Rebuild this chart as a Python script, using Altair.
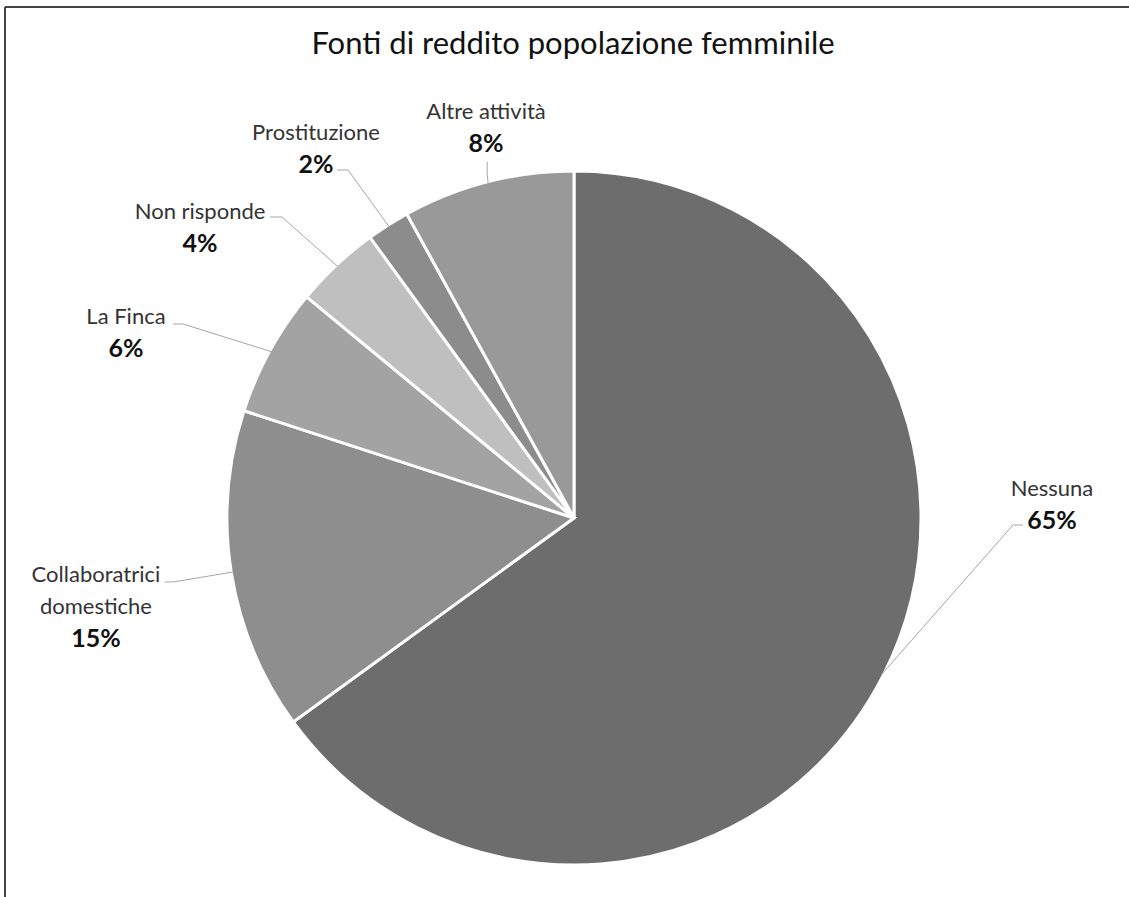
import math
import altair as alt
import pandas as pd

# ---- data ----
categories = ["Nessuna", "Collaboratrici domestiche", "La Finca", "Non risponde", "Prostituzione", "Altre attività"]
values = [65, 15, 6, 4, 2, 8]
pct_labels = ["65%", "15%", "6%", "4%", "2%", "8%"]
colors = ["#6d6d6d", "#8e8e8e", "#a3a3a3", "#bfbfbf", "#8c8c8c", "#999999"]
title_text = "Fonti di reddito popolazione femminile"

# ---- layout (style) ----
W, H = 1129, 897
CX, CY, R = 574, 518, 347
FONT = "Lato"
LH = 32  # label line height
# first label line centre, relative to the slice's outer-edge midpoint
label_off = {
    "Nessuna": (170.6, -185.6),
    "Collaboratrici domestiche": (-137.3, 3),
    "La Finca": (-145.7, -34.8),
    "Non risponde": (-137.8, -54.5),
    "Prostituzione": (-73.1, -93.7),
    "Altre attività": (-2.2, -71.8),
}
# leader line: (elbow dx, elbow dy, end dx, end dy) relative to edge point
leader_off = {
    "Nessuna": (131.6, -149.6, 141.6, -149.6),
    "Collaboratrici domestiche": (-60.3, 10, -68.3, 10),
    "La Finca": (-88.7, -27.8, -98.7, -27.8),
    "Non risponde": (-55.8, -49.5, -67.8, -49.5),
    "Prostituzione": (-41.1, -56.7, -52.1, -56.7),
    "Altre attività": (-1, -10, -1, -22),
}

total = sum(values)
pie_df = pd.DataFrame({"cat": categories, "val": values, "idx": list(range(len(values)))})

lines, names, pcts = [], [], []
cum = 0
for c, v, p in zip(categories, values, pct_labels):
    mid = (cum + v / 2) / total * 2 * math.pi
    cum += v
    ex = CX + (R - 2) * math.sin(mid)
    ey = CY - (R - 2) * math.cos(mid)
    edx, edy, ndx, ndy = leader_off[c]
    for k, (px, py) in enumerate([(ex, ey), (ex + edx, ey + edy), (ex + ndx, ey + ndy)]):
        lines.append({"cat": c, "k": k, "x": px, "y": py})
    ldx, ldy = label_off[c]
    lx, ly = ex + ldx, ey + ldy
    name_lines = c.split(" ") if c == "Collaboratrici domestiche" else [c]
    for i, t in enumerate(name_lines):
        names.append({"t": t, "x": lx, "y": ly + i * LH})
    pcts.append({"t": p, "x": lx, "y": ly + LH * len(name_lines)})

xs = alt.Scale(domain=[0, W], range=[0, W], nice=False, zero=False)
ys = alt.Scale(domain=[0, H], range=[0, H], nice=False, zero=False)

frame_top = alt.Chart(pie_df).mark_rule(color="#444444", strokeWidth=2).encode(
    x=alt.value(5), x2=alt.value(W), y=alt.value(7))
frame_left = alt.Chart(pie_df).mark_rule(color="#444444", strokeWidth=1.5).encode(
    x=alt.value(5), y=alt.value(7), y2=alt.value(H))

pie = alt.Chart(pie_df).mark_arc(radius=R, stroke="white", strokeWidth=3).encode(
    theta=alt.Theta("val:Q", stack=True),
    order=alt.Order("idx:O"),
    color=alt.Color("cat:N", scale=alt.Scale(domain=categories, range=colors), legend=None),
    x=alt.value(CX), y=alt.value(CY),
)

leaders = alt.Chart(pd.DataFrame(lines)).mark_line(color="#a6a6a6", strokeWidth=1).encode(
    x=alt.X("x:Q", scale=xs, axis=None),
    y=alt.Y("y:Q", scale=ys, axis=None),
    detail="cat:N", order="k:Q")

name_txt = alt.Chart(pd.DataFrame(names)).mark_text(
    font=FONT, fontSize=22, color="#333333", baseline="middle", align="center").encode(
    x=alt.X("x:Q", scale=xs, axis=None), y=alt.Y("y:Q", scale=ys, axis=None), text="t:N")
pct_txt = alt.Chart(pd.DataFrame(pcts)).mark_text(
    font=FONT, fontSize=25, fontWeight="bold", color="#111111", baseline="middle", align="center").encode(
    x=alt.X("x:Q", scale=xs, axis=None), y=alt.Y("y:Q", scale=ys, axis=None), text="t:N")

title = alt.Chart(pd.DataFrame({"t": [title_text]})).mark_text(
    font=FONT, fontSize=31, color="#111111", baseline="middle", align="center").encode(
    x=alt.value(573), y=alt.value(45), text="t:N")

chart = alt.layer(frame_top, frame_left, pie, leaders, name_txt, pct_txt, title).properties(
    width=W, height=H, autosize=alt.AutoSizeParams(type="none"), padding=0,
    background="white").configure_view(stroke=None)

chart.save("out.html", embed_options={"renderer": "svg", "actions": False})
